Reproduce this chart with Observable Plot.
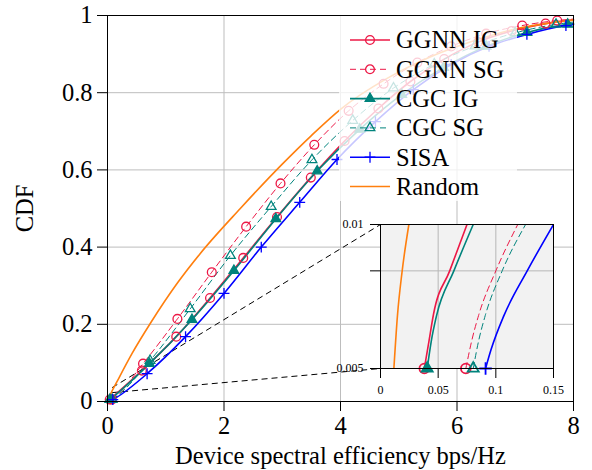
<!DOCTYPE html>
<html>
<head>
<meta charset="utf-8">
<script src="https://cdn.jsdelivr.net/npm/d3@7"></script>
<script src="https://cdn.jsdelivr.net/npm/@observablehq/plot@0.6"></script>
<style>
  html, body { margin: 0; padding: 0; background: #fff; }
  #wrap { position: relative; width: 592px; height: 470px; overflow: hidden; }
  #wrap > svg { position: absolute; left: 0; top: 0; }
  #legend { position: absolute; left: 339px; top: 16px; width: 178px; height: 185px; background: rgba(255,255,255,0.78); }
</style>
</head>
<body>
<div id="wrap"></div>
<script>
// ---------------- data ----------------
const seriesNames = ["GGNN IG", "GGNN SG", "CGC IG", "CGC SG", "SISA", "Random"];

// zoomed (inset) part of each curve, then the marked points of the main plot, then the end point
const ggnnIG_insetX = [0.038, 0.042, 0.046, 0.060, 0.075];
const ggnnIG_insetY = [0.005, 0.0057, 0.0065, 0.008, 0.010];
const ggnnIG_x = [0.59, 1.18, 1.76, 2.33, 2.91, 3.49, 4.07, 4.65, 5.20, 5.78, 6.36, 6.94, 7.52];
const ggnnIG_y = [0.080, 0.168, 0.268, 0.372, 0.478, 0.580, 0.675, 0.759, 0.829, 0.887, 0.931, 0.960, 0.979];
const ggnnIG_end = [8, 0.989];

const ggnnSG_insetX = [0.074, 0.079, 0.085, 0.100, 0.119];
const ggnnSG_insetY = [0.005, 0.0057, 0.00645, 0.008, 0.010];
const ggnnSG_x = [0.61, 1.20, 1.79, 2.38, 2.97, 3.55, 4.14, 4.74, 5.32, 5.90, 6.50, 7.12, 7.72];
const ggnnSG_y = [0.098, 0.214, 0.335, 0.453, 0.565, 0.665, 0.753, 0.823, 0.878, 0.920, 0.953, 0.974, 0.987];
const ggnnSG_end = [8, 0.991];

const cgcIG_insetX = [0.0405, 0.044, 0.0486, 0.0636, 0.0804];
const cgcIG_insetY = [0.005, 0.0057, 0.00645, 0.008, 0.010];
const cgcIG_x = [0.72, 1.45, 2.17, 2.89, 3.60, 4.33, 5.05, 5.77, 6.50, 7.20, 7.90];
const cgcIG_y = [0.098, 0.212, 0.339, 0.473, 0.597, 0.705, 0.795, 0.865, 0.920, 0.956, 0.977];
const cgcIG_end = [8, 0.979];

const cgcSG_insetX = [0.0804, 0.085, 0.0908, 0.1055, 0.1258];
const cgcSG_insetY = [0.005, 0.0057, 0.00645, 0.008, 0.010];
const cgcSG_x = [0.73, 1.42, 2.11, 2.81, 3.51, 4.21, 4.91, 5.61, 6.31, 7.00, 7.70];
const cgcSG_y = [0.106, 0.240, 0.378, 0.505, 0.626, 0.728, 0.812, 0.874, 0.921, 0.955, 0.977];
const cgcSG_end = [8, 0.983];

const sisa_insetX = [0.0911, 0.0958, 0.107, 0.1272, 0.150];
const sisa_insetY = [0.005, 0.00547, 0.00645, 0.008, 0.010];
const sisa_x = [0.68, 1.34, 2.00, 2.64, 3.30, 3.94, 4.60, 5.25, 5.90, 6.55, 7.20, 7.87];
const sisa_y = [0.072, 0.168, 0.280, 0.400, 0.516, 0.627, 0.725, 0.808, 0.873, 0.920, 0.951, 0.974];
const sisa_end = [8, 0.977];

const random_x = [0.0116, 0.0147, 0.0188, 0.0246, 0.20, 0.42, 0.75, 1.20, 1.59, 2.28, 3.00, 3.50, 4.00, 4.80, 5.50, 6.20, 7.00, 7.60, 8.00];
const random_y = [0.005, 0.00645, 0.008, 0.010, 0.062, 0.124, 0.206, 0.307, 0.383, 0.500, 0.615, 0.689, 0.757, 0.837, 0.890, 0.930, 0.965, 0.981, 0.988];

const xTicks = [0, 2, 4, 6, 8];
const yTicks = [0, 0.2, 0.4, 0.6, 0.8, 1];
const insetXTicks = [0, 0.05, 0.1, 0.15];
const insetYTicks = [0.005, 0.008, 0.01];
const insetXDomain = [0, 0.15];
const insetYDomain = [0.005, 0.01];

// ---------------- styles ----------------
const RED = "#ec1846", TEAL = "#00837c", BLUE = "#0000ff", ORANGE = "#ff7f0e";
const FONT = "'Liberation Serif', 'Times New Roman', serif";
const styles = {
  "GGNN IG": {stroke: RED,    width: 1.6, dash: null,  symbol: "circle",   fill: "none", r: 4.4},
  "GGNN SG": {stroke: RED,    width: 1.0, dash: "6,4", symbol: "circle",   fill: "none", r: 4.4},
  "CGC IG":  {stroke: TEAL,   width: 1.6, dash: null,  symbol: "triangle", fill: TEAL,   r: 3.6},
  "CGC SG":  {stroke: TEAL,   width: 1.0, dash: "6,4", symbol: "triangle", fill: "none", r: 3.6},
  "SISA":    {stroke: BLUE,   width: 1.6, dash: null,  symbol: "plus",     fill: "none", r: 3.6},
  "Random":  {stroke: ORANGE, width: 1.6, dash: null,  symbol: null,       fill: "none", r: 0}
};

function build(name, ix, iy, mx, my, end) {
  const inset = ix.map((x, i) => ({name, x, y: iy[i]}));
  const main = mx.map((x, i) => ({name, x, y: my[i]}));
  const curve = inset.concat(main, end ? [{name, x: end[0], y: end[1]}] : []);
  const marks = [inset[0]].concat(main);
  return {name, inset, curve, marks};
}
const series = [
  build("GGNN IG", ggnnIG_insetX, ggnnIG_insetY, ggnnIG_x, ggnnIG_y, ggnnIG_end),
  build("GGNN SG", ggnnSG_insetX, ggnnSG_insetY, ggnnSG_x, ggnnSG_y, ggnnSG_end),
  build("CGC IG",  cgcIG_insetX,  cgcIG_insetY,  cgcIG_x,  cgcIG_y,  cgcIG_end),
  build("CGC SG",  cgcSG_insetX,  cgcSG_insetY,  cgcSG_x,  cgcSG_y,  cgcSG_end),
  build("SISA",    sisa_insetX,   sisa_insetY,   sisa_x,   sisa_y,   sisa_end),
  {name: "Random", curve: random_x.map((x, i) => ({name: "Random", x, y: random_y[i]})), marks: []}
];
series[5].inset = series[5].curve.slice(0, 4);

// ---------------- layout ----------------
const W = 592, H = 470;
const ML = 107, MR = 19, MT = 15, MB = 69;
const IL = 380, IR = 553, IT = 224, IB = 368; // inset frame in pixels

const xMain = d3.scaleLinear([0, 8], [ML, W - MR]);
const yMain = d3.scaleLinear([0, 1], [H - MB, MT]);
const connectors = [
  {x1: 0.08, y1: 0.036, x2: xMain.invert(IL), y2: yMain.invert(IT)},
  {x1: 0.08, y1: 0.023, x2: xMain.invert(IL), y2: yMain.invert(IB)}
];

function seriesMarks(opts) {
  const out = [];
  for (const s of series) {
    const st = styles[s.name];
    out.push(Plot.line(opts.inset ? s.inset : s.curve, {
      x: "x", y: "y", stroke: st.stroke, strokeWidth: st.width, curve: "monotone-x",
      strokeDasharray: st.dash, clip: opts.inset ? true : false
    }));
  }
  for (const s of series) {
    const st = styles[s.name];
    if (!st.symbol) continue;
    const pts = opts.inset ? s.marks.slice(0, 1) : s.marks;
    out.push(Plot.dot(pts, {
      x: "x", y: "y", symbol: st.symbol, r: opts.inset ? st.r + 0.5 : st.r,
      stroke: st.stroke, fill: st.fill, strokeWidth: opts.inset ? 1.8 : 1.3
    }));
  }
  return out;
}

const fmt = d3.format("~g");

const main = Plot.plot({
  width: W, height: H,
  marginLeft: ML, marginRight: MR, marginTop: MT, marginBottom: MB,
  style: {fontFamily: FONT, fontSize: "24.5px", background: "white", color: "black"},
  x: {domain: [0, 8]},
  y: {domain: [0, 1]},
  marks: [
    Plot.gridX(xTicks, {stroke: "#bdbdbd", strokeOpacity: 1}),
    Plot.gridY(yTicks, {stroke: "#bdbdbd", strokeOpacity: 1}),
    Plot.link(connectors, {x1: "x1", y1: "y1", x2: "x2", y2: "y2", stroke: "black", strokeWidth: 1, strokeDasharray: "6,4"}),
    ...seriesMarks({inset: false}),
    Plot.frame({stroke: "black", strokeWidth: 1}),
    Plot.axisX(xTicks, {tickSize: 10, tickPadding: 5, tickFormat: fmt, label: "Device spectral efficiency bps/Hz",
      labelAnchor: "center", labelArrow: "none", labelOffset: 62}),
    Plot.axisY(yTicks, {tickSize: 10, tickPadding: 5, tickFormat: fmt, label: "CDF",
      labelAnchor: "center", labelArrow: "none", labelOffset: 92})
  ]
});

const inset = Plot.plot({
  width: W, height: H,
  marginLeft: IL, marginRight: W - IR, marginTop: IT, marginBottom: H - IB,
  style: {fontFamily: FONT, fontSize: "12px", background: "none", color: "black"},
  x: {domain: insetXDomain},
  y: {type: "log", domain: insetYDomain},
  marks: [
    Plot.frame({fill: "#f2f2f2"}),
    Plot.gridX(insetXTicks, {stroke: "#b7b7b7", strokeOpacity: 1}),
    Plot.gridY(insetYTicks, {stroke: "#b7b7b7", strokeOpacity: 1}),
    ...seriesMarks({inset: true}),
    Plot.frame({stroke: "black", strokeWidth: 1}),
    Plot.axisX(insetXTicks, {tickSize: 10, tickPadding: 7, tickFormat: fmt, label: null}),
    Plot.axisY(insetYTicks, {tickSize: 10, tickPadding: 7, tickFormat: fmt, label: null})
  ]
});

const wrap = document.getElementById("wrap");
wrap.appendChild(main);

// legend (semi-transparent white box, drawn over the curves)
const legend = document.createElement("div");
legend.id = "legend";
wrap.appendChild(legend);
const lsvg = d3.select(legend).append("svg").attr("width", 178).attr("height", 185)
  .style("font-family", FONT).style("font-size", "24.5px");
const rowY0 = 24, rowStep = 29.3;
seriesNames.forEach((name, i) => {
  const st = styles[name];
  const g = lsvg.append("g").attr("transform", `translate(0,${rowY0 + i * rowStep})`);
  g.append("line").attr("x1", 11).attr("x2", 51).attr("y1", 0).attr("y2", 0)
    .attr("stroke", st.stroke).attr("stroke-width", st.width).attr("stroke-dasharray", st.dash);
  if (st.symbol) {
    const sym = {circle: d3.symbolCircle, triangle: d3.symbolTriangle, plus: d3.symbolPlus}[st.symbol];
    g.append("path").attr("transform", "translate(31,0)")
      .attr("d", d3.symbol(sym, Math.PI * st.r * st.r)())
      .attr("fill", st.fill === "none" ? "none" : st.fill).attr("stroke", st.stroke).attr("stroke-width", 1.3);
  }
  g.append("text").attr("x", 57).attr("y", 0).attr("dy", "0.34em").text(name);
});

wrap.appendChild(inset);
</script>
</body>
</html>
